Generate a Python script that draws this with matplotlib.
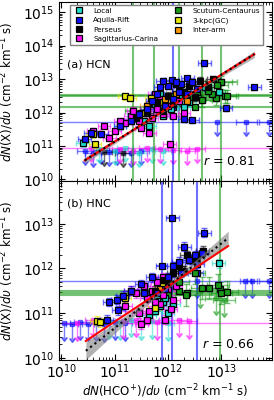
import numpy as np
import matplotlib
matplotlib.use("Agg")
from matplotlib import pyplot as plt
from matplotlib.lines import Line2D

# colores de cada brazo
cols = {"Local": "#22ddcc", "Aquila-Rift": "#1010ff", "Perseus": "#000000",
        "Sagittarius-Carina": "#ff10ff", "Scutum-Centaurus": "#1a9a1a",
        "3-kpc(GC)": "#e8e800", "Inter-arm": "#ff9900"}
names = ["Local", "Aquila-Rift", "Perseus", "Sagittarius-Carina",
         "Scutum-Centaurus", "3-kpc(GC)", "Inter-arm"]

# ---- panel (a) HCN: log10 de las densidades, detecciones ----
hcn_local_x = [10.40, 11.55, 11.75, 11.90, 12.05, 12.20, 11.35, 11.65, 12.40, 12.70, 12.95, 11.10, 11.85, 12.30]
hcn_local_y = [11.08, 11.75, 12.25, 11.90, 12.10, 12.45, 11.90, 11.60, 12.30, 12.75, 12.60, 11.60, 12.55, 12.15]
hcn_aqui_x = [12.68, 13.62, 13.09, 12.31, 12.46, 12.07, 12.36, 12.25, 12.15, 12.00, 11.90, 12.45, 12.55, 11.80,
              11.70, 12.20, 11.95, 11.60, 11.45, 11.30, 11.10, 10.55, 10.44, 10.75, 12.10, 11.85, 12.35]
hcn_aqui_y = [13.47, 12.75, 12.13, 11.80, 11.77, 12.96, 13.02, 12.84, 12.90, 12.78, 12.95, 12.90, 12.70, 12.55,
              12.35, 12.60, 12.20, 12.10, 11.95, 11.75, 11.60, 11.38, 11.20, 11.35, 12.40, 12.75, 12.55]
hcn_pers_x = [12.20, 12.40, 12.60, 12.00, 11.80, 12.10, 12.50, 12.75, 11.60, 11.90, 12.30, 12.85, 12.15, 11.40]
hcn_pers_y = [12.65, 12.80, 12.95, 12.50, 12.30, 12.25, 12.45, 12.75, 12.00, 12.05, 12.60, 13.00, 12.85, 11.85]
hcn_sgr_x = [10.60, 10.80, 11.00, 11.20, 11.30, 11.45, 11.60, 11.70, 11.80, 11.90, 12.00, 12.10, 12.20, 11.50,
             11.35, 11.65, 11.85, 12.03, 11.10, 10.90, 12.30, 11.75]
hcn_sgr_y = [11.45, 11.60, 11.45, 11.70, 11.90, 11.75, 12.05, 11.85, 12.10, 11.95, 12.20, 11.90, 12.35, 11.55,
             12.05, 11.40, 12.40, 11.05, 11.75, 11.25, 12.00, 12.55]
hcn_scu_x = [13.00, 12.93, 13.07, 13.11, 12.91, 12.83, 12.63, 12.55, 12.75, 12.45]
hcn_scu_y = [12.90, 12.82, 12.48, 12.48, 12.42, 12.55, 12.37, 12.60, 12.65, 12.45]
hcn_kpc_x = [11.19, 11.28, 11.69, 10.59, 10.63, 11.50, 11.90]
hcn_kpc_y = [12.48, 12.43, 12.43, 11.35, 11.05, 12.00, 12.30]
hcn_int_x = [11.95, 12.15, 11.60, 12.35]
hcn_int_y = [12.40, 12.55, 12.20, 12.35]

# detecciones con barras enormes (bajan hasta el borde)
hcn_wide_x = [11.35, 11.73, 12.20, 12.63, 13.00, 12.10, 12.20, 12.10, 12.50]
hcn_wide_y = [12.05, 12.25, 12.50, 12.37, 12.90, 12.15, 12.53, 12.48, 12.15]
hcn_wide_c = ["Scutum-Centaurus", "Scutum-Centaurus", "Scutum-Centaurus", "Scutum-Centaurus",
              "Scutum-Centaurus", "Aquila-Rift", "Scutum-Centaurus", "Scutum-Centaurus", "Scutum-Centaurus"]
hcn_wide_dx = [0.15, 0.15, 0.2, 0.3, 0.3, 0.1, 9, 9, 9]
hcn_wide_dy = [9, 9, 9, 9, 9, 9, 0.05, 0.05, 0.05]

# limites superiores
hcn_ul_x = [10.45, 10.60, 10.75, 10.90, 11.05, 11.30, 11.50, 10.70, 11.00, 11.20, 11.45, 11.70, 11.90,
            10.55, 11.10, 11.35, 11.60, 11.85, 12.10, 12.35, 12.55, 10.80, 11.15, 12.93, 13.47, 13.90]
hcn_ul_y = [10.85, 10.80, 10.88, 10.82, 10.86, 10.80, 10.84, 10.90, 10.85, 10.95, 10.80, 10.90, 10.85,
            10.95, 10.90, 10.85, 10.95, 10.90, 10.88, 10.85, 10.90, 10.82, 10.80, 11.71, 11.71, 11.71]
hcn_ul_c = ["Aquila-Rift"] * 7 + ["Local"] * 6 + ["Sagittarius-Carina"] * 8 + ["Perseus"] * 2 + ["Aquila-Rift"] * 3
hcn_ul_dx = [0.15] * 13 + [9] + [0.15] * 7 + [0.15] * 2 + [9, 0.2, 0.2]

# ---- panel (b) HNC ----
hnc_local_x = [11.75, 11.85, 11.90, 12.00, 11.65, 12.95, 11.80, 12.10, 11.95]
hnc_local_y = [11.05, 11.15, 11.25, 11.00, 10.95, 12.12, 11.40, 11.20, 11.35]
hnc_aqui_x = [12.68, 12.31, 12.63, 12.10, 12.20, 12.00, 11.95, 12.40, 12.50, 11.70, 11.50, 11.30,
              11.05, 10.90, 10.85, 11.80, 12.25, 12.55, 11.15, 11.07, 11.56]
hnc_aqui_y = [12.80, 12.48, 12.35, 12.05, 12.15, 11.80, 11.55, 12.20, 12.30, 11.80, 11.65, 11.50,
              11.30, 11.25, 10.85, 11.45, 11.90, 12.10, 11.39, 11.07, 11.45]
hnc_pers_x = [12.35, 12.20, 12.45, 12.10, 11.90, 12.55, 12.00, 11.75, 12.30, 12.65]
hnc_pers_y = [12.30, 12.05, 12.20, 11.90, 11.75, 12.25, 11.65, 11.50, 11.95, 12.40]
hnc_sgr_x = [11.40, 11.55, 11.60, 11.70, 11.80, 11.85, 11.90, 12.00, 12.05, 11.65, 11.75, 11.95, 12.10,
             11.30, 11.50, 11.20, 11.45, 11.90, 12.15, 11.60]
hnc_sgr_y = [11.45, 11.60, 11.35, 11.50, 11.70, 11.20, 11.40, 11.55, 11.10, 11.05, 11.25, 10.85, 11.30,
             11.50, 10.75, 11.15, 11.00, 11.80, 11.60, 10.85]
hnc_scu_x = [12.63, 12.77, 12.94, 13.00, 13.11, 12.33, 12.50, 12.20]
hnc_scu_y = [11.57, 11.57, 11.63, 11.45, 11.48, 11.41, 11.90, 11.70]
hnc_kpc_x = [10.66, 10.72, 11.19, 11.75, 11.90]
hnc_kpc_y = [10.83, 10.80, 11.34, 11.12, 11.60]
hnc_int_x = [11.85, 12.00]
hnc_int_y = [11.55, 11.70]

hnc_wide_x = [12.08, 11.88, 12.55, 12.98, 12.20, 12.35, 12.00]
hnc_wide_y = [13.13, 12.06, 11.90, 11.55, 11.50, 11.45, 11.40]
hnc_wide_c = ["Aquila-Rift", "Aquila-Rift", "Aquila-Rift", "Scutum-Centaurus",
              "Scutum-Centaurus", "Scutum-Centaurus", "Scutum-Centaurus"]
hnc_wide_dx = [0.12, 0.1, 0.1, 0.15, 9, 9, 9]
hnc_wide_dy = [9, 9, 9, 9, 0.05, 0.05, 0.05]

hnc_ul_x = [10.05, 10.20, 10.35, 10.50, 10.65, 10.80, 11.00, 11.20, 10.90, 11.10, 11.30, 11.50, 11.70, 12.00,
            10.30, 10.60, 11.15, 11.40, 11.80, 12.20, 12.40, 12.90, 13.05, 12.60, 12.55, 13.45, 13.58, 13.90]
hnc_ul_y = [10.78, 10.75, 10.80, 10.76, 10.78, 10.75, 10.80, 10.78, 10.82, 10.80, 10.85, 10.80, 10.82, 10.78,
            10.78, 10.85, 10.82, 10.85, 10.80, 10.85, 10.82, 11.35, 11.30, 11.50, 11.72, 11.72, 11.72, 11.72]
hnc_ul_c = ["Aquila-Rift"] * 8 + ["Local"] * 6 + ["Sagittarius-Carina"] * 7 + ["Scutum-Centaurus"] * 3 + ["Aquila-Rift"] * 4
hnc_ul_dx = [0.12] * 14 + [9] + [0.15] * 6 + [0.2, 0.2, 0.2] + [9, 0.1, 0.1, 0.2]

# ajustes (extremos) y banda gris
fit_a_x = [10.44, 11.2, 12.0, 12.8, 13.62]
fit_a_red = [10.57, 11.33, 12.13, 12.93, 13.74]
fit_a_dot = [10.57, 11.33, 12.13, 12.93, 13.74]
fit_a_band = [0.10, 0.05, 0.03, 0.05, 0.10]
fit_b_x = [10.46, 11.1, 11.8, 12.5, 13.13]
fit_b_red = [10.38, 10.89, 11.44, 12.00, 12.50]
fit_b_dot = [10.16, 10.76, 11.42, 12.08, 12.68]
fit_b_band = [0.20, 0.10, 0.05, 0.09, 0.15]


def dex(v, e):
    v = np.asarray(v, float)
    e = np.asarray(e, float) * np.ones_like(v)
    return [v * (1 - 10 ** -e), v * (10 ** e - 1)]


def puntos(ax, lx, ly, c, ex=0.12, ey=0.1):
    x = 10 ** np.asarray(lx)
    y = 10 ** np.asarray(ly)
    ax.errorbar(x, y, xerr=dex(x, ex), yerr=dex(y, ey), fmt="none", ecolor=cols[c],
                elinewidth=1, capsize=2, alpha=0.6, zorder=2)
    ax.plot(x, y, "s", ms=4, mfc=cols[c], mec="k", mew=0.9, zorder=4)


def anchos(ax, lx, ly, cs, dx, dy):
    for i in range(len(lx)):
        x = 10 ** lx[i]
        y = 10 ** ly[i]
        ax.errorbar([x], [y], xerr=dex([x], dx[i]), yerr=dex([y], dy[i]), fmt="none",
                    ecolor=cols[cs[i]], elinewidth=1.5, capsize=2, alpha=0.6, zorder=2)
        ax.plot([x], [y], "s", ms=4, mfc=cols[cs[i]], mec="k", mew=0.9, zorder=4)


def limites(ax, lx, ly, cs, dx):
    for i in range(len(lx)):
        x = 10 ** lx[i]
        y = 10 ** ly[i]
        ax.errorbar([x], [y], xerr=dex([x], dx[i]), yerr=[[y * 0.5]], uplims=True, fmt="s",
                    ms=2.5, color=cols[cs[i]], elinewidth=1, capsize=2, alpha=0.55, zorder=1)


def ajuste(ax, fx, fr, fd, fb):
    fx = np.asarray(fx)
    fd = np.asarray(fd)
    fb = np.asarray(fb)
    ax.fill_between(10 ** fx, 10 ** (fd - fb), 10 ** (fd + fb), color="gray", alpha=0.6, lw=0, zorder=5)
    ax.plot(10 ** fx, 10 ** np.asarray(fr), "-", color="red", lw=1.5, zorder=6)
    ax.plot(10 ** fx, 10 ** fd, ":", color="k", lw=1.5, zorder=7)


plt.rcParams["font.size"] = 10
fig = plt.figure(figsize=(2.74, 4.0), dpi=100)
ax1 = fig.add_axes([0.215, 0.5475, 0.778, 0.4475])
ax2 = fig.add_axes([0.215, 0.10, 0.778, 0.4475])

# panel (a)
limites(ax1, hcn_ul_x, hcn_ul_y, hcn_ul_c, hcn_ul_dx)
anchos(ax1, hcn_wide_x, hcn_wide_y, hcn_wide_c, hcn_wide_dx, hcn_wide_dy)
puntos(ax1, hcn_local_x, hcn_local_y, "Local")
puntos(ax1, hcn_sgr_x, hcn_sgr_y, "Sagittarius-Carina")
puntos(ax1, hcn_scu_x, hcn_scu_y, "Scutum-Centaurus", 0.2, 0.2)
puntos(ax1, hcn_kpc_x, hcn_kpc_y, "3-kpc(GC)")
puntos(ax1, hcn_int_x, hcn_int_y, "Inter-arm")
puntos(ax1, hcn_pers_x, hcn_pers_y, "Perseus")
puntos(ax1, hcn_aqui_x, hcn_aqui_y, "Aquila-Rift", 0.12, 0.08)
ajuste(ax1, fit_a_x, fit_a_red, fit_a_dot, fit_a_band)

# panel (b)
limites(ax2, hnc_ul_x, hnc_ul_y, hnc_ul_c, hnc_ul_dx)
anchos(ax2, hnc_wide_x, hnc_wide_y, hnc_wide_c, hnc_wide_dx, hnc_wide_dy)
puntos(ax2, hnc_local_x, hnc_local_y, "Local")
puntos(ax2, hnc_sgr_x, hnc_sgr_y, "Sagittarius-Carina")
puntos(ax2, hnc_scu_x, hnc_scu_y, "Scutum-Centaurus", 0.2, 0.25)
puntos(ax2, hnc_kpc_x, hnc_kpc_y, "3-kpc(GC)")
puntos(ax2, hnc_int_x, hnc_int_y, "Inter-arm")
puntos(ax2, hnc_pers_x, hnc_pers_y, "Perseus")
puntos(ax2, hnc_aqui_x, hnc_aqui_y, "Aquila-Rift", 0.12, 0.1)
ajuste(ax2, fit_b_x, fit_b_red, fit_b_dot, fit_b_band)

ylab = r"$dN$(X)/$d\upsilon$ (cm$^{-2}$ km$^{-1}$ s)"
for ax in (ax1, ax2):
    ax.set_xscale("log")
    ax.set_yscale("log")
    ax.set_xlim(9e9, 9e13)
    ax.tick_params(which="both", direction="in", top=True, right=True)
    ax.tick_params(which="major", length=4, width=0.8)
    ax.tick_params(which="minor", length=2, width=0.6)
    ax.tick_params(axis="x", pad=2)
    ax.set_ylabel(ylab, fontsize=8.5)
    ax.yaxis.set_label_coords(-0.2, 0.5)

ax1.set_ylim(9e9, 2e15)
ax2.set_ylim(9e9, 9e13)
ax1.tick_params(labelbottom=False)
ax2.set_xlabel(r"$dN$(HCO$^{+}$)/$d\upsilon$ (cm$^{-2}$ km$^{-1}$ s)", fontsize=8.5, labelpad=1)

ax1.text(0.04, 0.635, "(a) HCN", transform=ax1.transAxes, fontsize=8)
ax2.text(0.04, 0.86, "(b) HNC", transform=ax2.transAxes, fontsize=8)
ax1.text(0.92, 0.09, r"$r$ = 0.81", transform=ax1.transAxes, fontsize=9, ha="right")
ax2.text(0.92, 0.065, r"$r$ = 0.66", transform=ax2.transAxes, fontsize=9, ha="right")

handles = [Line2D([], [], ls="none", marker="s", ms=3.8, mfc=cols[n], mec="k", mew=0.9) for n in names]
ax1.legend(handles, names, ncol=2, loc="upper center", fontsize=5.2, frameon=True, fancybox=False,
           edgecolor="gray", framealpha=1, handlelength=1.6, handletextpad=1.2, columnspacing=2.0,
           borderaxespad=0, labelspacing=0.45, bbox_to_anchor=(0.505, 0.983))

fig.savefig("out.png", dpi=100)
